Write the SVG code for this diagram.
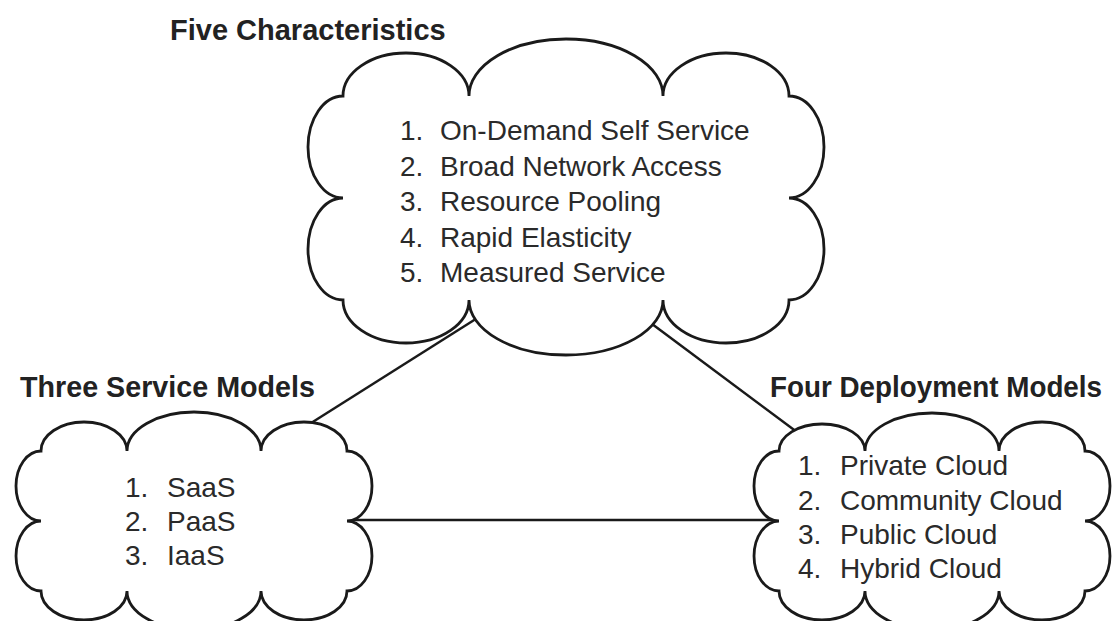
<svg xmlns="http://www.w3.org/2000/svg" width="1116" height="621" viewBox="0 0 1116 621">
<style>
.cloud{fill:#ffffff;stroke:#1a1a1a;stroke-width:2.8;stroke-linejoin:miter}
.conn{stroke:#1a1a1a;stroke-width:2.5;fill:none}
.title{font-family:"Liberation Sans",Arial,sans-serif;font-weight:bold;font-size:29px;fill:#222222}
.item{font-family:"Liberation Sans",Arial,sans-serif;font-size:28px;fill:#2a2a2a}
</style>
<rect width="1116" height="621" fill="#ffffff"/>
<g id="connectors">
<line class="conn" x1="300" y1="430" x2="490" y2="310"/>
<line class="conn" x1="640" y1="315" x2="805" y2="438"/>
<line class="conn" x1="330" y1="520" x2="790" y2="520"/>
</g>
<g id="five-characteristics">
<path class="cloud" d="M343,96 A63,43 0 0 1 469,96 A97,57 0 0 1 663,96 A63,43 0 0 1 789,96 A35,51 0 0 1 789,198 A35,51 0 0 1 789,300 A63,43 0 0 1 663,300 A97,55 0 0 1 469,300 A63,43 0 0 1 343,300 A35,51 0 0 1 343,198 A35,51 0 0 1 343,96 Z"/>
<text class="title" x="170" y="40">Five Characteristics</text>
<text class="item"><tspan x="400" y="140">1.</tspan><tspan x="440" y="140">On-Demand Self Service</tspan></text>
<text class="item"><tspan x="400" y="175.5">2.</tspan><tspan x="440" y="175.5">Broad Network Access</tspan></text>
<text class="item"><tspan x="400" y="211">3.</tspan><tspan x="440" y="211">Resource Pooling</tspan></text>
<text class="item"><tspan x="400" y="246.5">4.</tspan><tspan x="440" y="246.5">Rapid Elasticity</tspan></text>
<text class="item"><tspan x="400" y="282">5.</tspan><tspan x="440" y="282">Measured Service</tspan></text>
</g>
<g id="three-service-models">
<path class="cloud" d="M41,451 A43,29 0 0 1 127,451 A67,39 0 0 1 261,451 A43,29 0 0 1 347,451 A25,35 0 0 1 347,521 A25,35 0 0 1 347,591 A43,29 0 0 1 261,591 A67,39 0 0 1 127,591 A43,29 0 0 1 41,591 A25,35 0 0 1 41,521 A25,35 0 0 1 41,451 Z"/>
<text class="title" x="20" y="397" textLength="295" lengthAdjust="spacingAndGlyphs">Three Service Models</text>
<text class="item"><tspan x="125" y="497">1.</tspan><tspan x="167" y="497">SaaS</tspan></text>
<text class="item"><tspan x="125" y="531">2.</tspan><tspan x="167" y="531">PaaS</tspan></text>
<text class="item"><tspan x="125" y="565">3.</tspan><tspan x="167" y="565">IaaS</tspan></text>
</g>
<g id="four-deployment-models">
<path class="cloud" d="M779,451 A43,27 0 0 1 865,451 A67,38 0 0 1 999,451 A43,29 0 0 1 1085,451 A25,35 0 0 1 1085,521 A25,35 0 0 1 1085,591 A43,29 0 0 1 999,591 A67,39 0 0 1 865,591 A43,29 0 0 1 779,591 A25,35 0 0 1 779,521 A25,35 0 0 1 779,451 Z"/>
<text class="title" x="770" y="397" textLength="332" lengthAdjust="spacingAndGlyphs">Four Deployment Models</text>
<text class="item"><tspan x="798" y="475">1.</tspan><tspan x="840" y="475">Private Cloud</tspan></text>
<text class="item"><tspan x="798" y="510">2.</tspan><tspan x="840" y="510">Community Cloud</tspan></text>
<text class="item"><tspan x="798" y="544">3.</tspan><tspan x="840" y="544">Public Cloud</tspan></text>
<text class="item"><tspan x="798" y="578">4.</tspan><tspan x="840" y="578">Hybrid Cloud</tspan></text>
</g>
</svg>
